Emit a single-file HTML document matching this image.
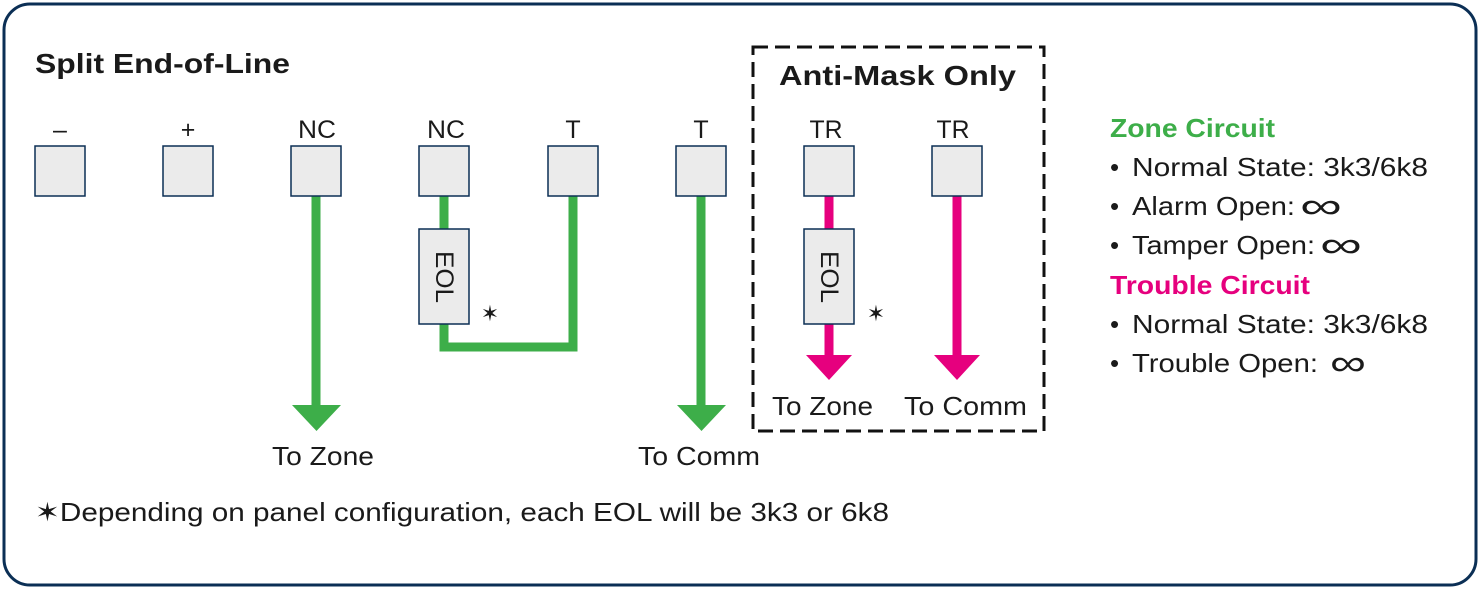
<!DOCTYPE html>
<html><head><meta charset="utf-8"><style>
html,body{margin:0;padding:0;background:#fff;}
svg{display:block;font-family:"Liberation Sans",sans-serif;}
</style></head><body>
<svg width="1481" height="590" viewBox="0 0 1481 590" xmlns="http://www.w3.org/2000/svg">
<rect x="4" y="4" width="1472" height="581" rx="26" fill="#fff" stroke="#0b2f55" stroke-width="3"/>
<text x="35" y="73" font-size="28" font-weight="bold" fill="#1a1a1a" textLength="255" lengthAdjust="spacingAndGlyphs">Split End-of-Line</text>
<rect x="753" y="47" width="291" height="384" fill="none" stroke="#111" stroke-width="3" stroke-dasharray="15 7"/>
<text x="779" y="85" font-size="28" font-weight="bold" fill="#1a1a1a" textLength="237" lengthAdjust="spacingAndGlyphs">Anti-Mask Only</text>
<g font-size="25" fill="#1a1a1a" text-anchor="middle">
<text x="60" y="138">–</text><text x="188" y="138">+</text><text x="317" y="138" textLength="38" lengthAdjust="spacingAndGlyphs">NC</text><text x="446" y="138" textLength="38" lengthAdjust="spacingAndGlyphs">NC</text>
<text x="573" y="138">T</text><text x="701" y="138">T</text><text x="826" y="138" textLength="33" lengthAdjust="spacingAndGlyphs">TR</text><text x="953" y="138" textLength="33" lengthAdjust="spacingAndGlyphs">TR</text>
</g>
<g stroke="#3dae49" stroke-width="9" fill="none">
<line x1="316" y1="196" x2="316" y2="406"/>
<line x1="444" y1="196" x2="444" y2="230"/>
<polyline points="444,324 444,347 573,347 573,196"/>
<line x1="701" y1="196" x2="701" y2="406"/>
</g>
<polygon points="292,405 341,405 316.5,431" fill="#3dae49"/>
<polygon points="677,405 726,405 701.5,431" fill="#3dae49"/>
<g stroke="#e6007e" stroke-width="9" fill="none">
<line x1="829" y1="196" x2="829" y2="230"/>
<line x1="829" y1="324" x2="829" y2="356"/>
<line x1="957" y1="196" x2="957" y2="356"/>
</g>
<polygon points="806,355 852,355 829,380" fill="#e6007e"/>
<polygon points="934,355 980,355 957,380" fill="#e6007e"/>
<g fill="#ebebeb" stroke="#0b2f55" stroke-width="1.5">
<rect x="35" y="146" width="50" height="50"/><rect x="163" y="146" width="50" height="50"/>
<rect x="291" y="146" width="50" height="50"/><rect x="419" y="146" width="50" height="50"/>
<rect x="548" y="146" width="50" height="50"/><rect x="676" y="146" width="50" height="50"/>
<rect x="804" y="146" width="50" height="50"/><rect x="932" y="146" width="50" height="50"/>
<rect x="419" y="229" width="50" height="95"/><rect x="804" y="229" width="50" height="95"/>
</g>
<text transform="translate(436,277) rotate(90)" font-size="25" fill="#1a1a1a" text-anchor="middle" textLength="52" lengthAdjust="spacingAndGlyphs">EOL</text>
<text transform="translate(821,277) rotate(90)" font-size="25" fill="#1a1a1a" text-anchor="middle" textLength="52" lengthAdjust="spacingAndGlyphs">EOL</text>
<text x="490" y="321" font-size="22" fill="#1a1a1a" text-anchor="middle">✶</text>
<text x="876" y="321" font-size="22" fill="#1a1a1a" text-anchor="middle">✶</text>
<g font-size="26" fill="#1a1a1a">
<text x="272" y="465" textLength="102" lengthAdjust="spacingAndGlyphs">To Zone</text>
<text x="638" y="465" textLength="122" lengthAdjust="spacingAndGlyphs">To Comm</text>
<text x="772" y="415" textLength="101" lengthAdjust="spacingAndGlyphs">To Zone</text>
<text x="904" y="415" textLength="123" lengthAdjust="spacingAndGlyphs">To Comm</text>
</g>
<text x="35" y="521" font-size="26" fill="#1a1a1a" textLength="854" lengthAdjust="spacingAndGlyphs">✶Depending on panel configuration, each EOL will be 3k3 or 6k8</text>
<g font-size="26" fill="#1a1a1a">
<text x="1110" y="137" font-weight="bold" fill="#3dae49" textLength="165" lengthAdjust="spacingAndGlyphs">Zone Circuit</text>
<text x="1110" y="294" font-weight="bold" fill="#e6007e" textLength="200" lengthAdjust="spacingAndGlyphs">Trouble Circuit</text>
<text x="1110" y="176">•</text><text x="1110" y="215">•</text><text x="1110" y="254">•</text><text x="1110" y="333">•</text><text x="1110" y="372">•</text>
<text x="1132" y="176" textLength="296" lengthAdjust="spacingAndGlyphs">Normal State: 3k3/6k8</text>
<text x="1132" y="215" textLength="163" lengthAdjust="spacingAndGlyphs">Alarm Open:</text>
<text x="1132" y="254" textLength="183" lengthAdjust="spacingAndGlyphs">Tamper Open:</text>
<text x="1132" y="333" textLength="296" lengthAdjust="spacingAndGlyphs">Normal State: 3k3/6k8</text>
<text x="1132" y="372" textLength="186" lengthAdjust="spacingAndGlyphs">Trouble Open:</text>
<g font-size="36">
<text x="1300" y="218" textLength="42" lengthAdjust="spacingAndGlyphs">∞</text>
<text x="1320" y="257" textLength="42" lengthAdjust="spacingAndGlyphs">∞</text>
<text x="1330" y="375" textLength="36" lengthAdjust="spacingAndGlyphs">∞</text>
</g>
</g>
</svg>
</body></html>
